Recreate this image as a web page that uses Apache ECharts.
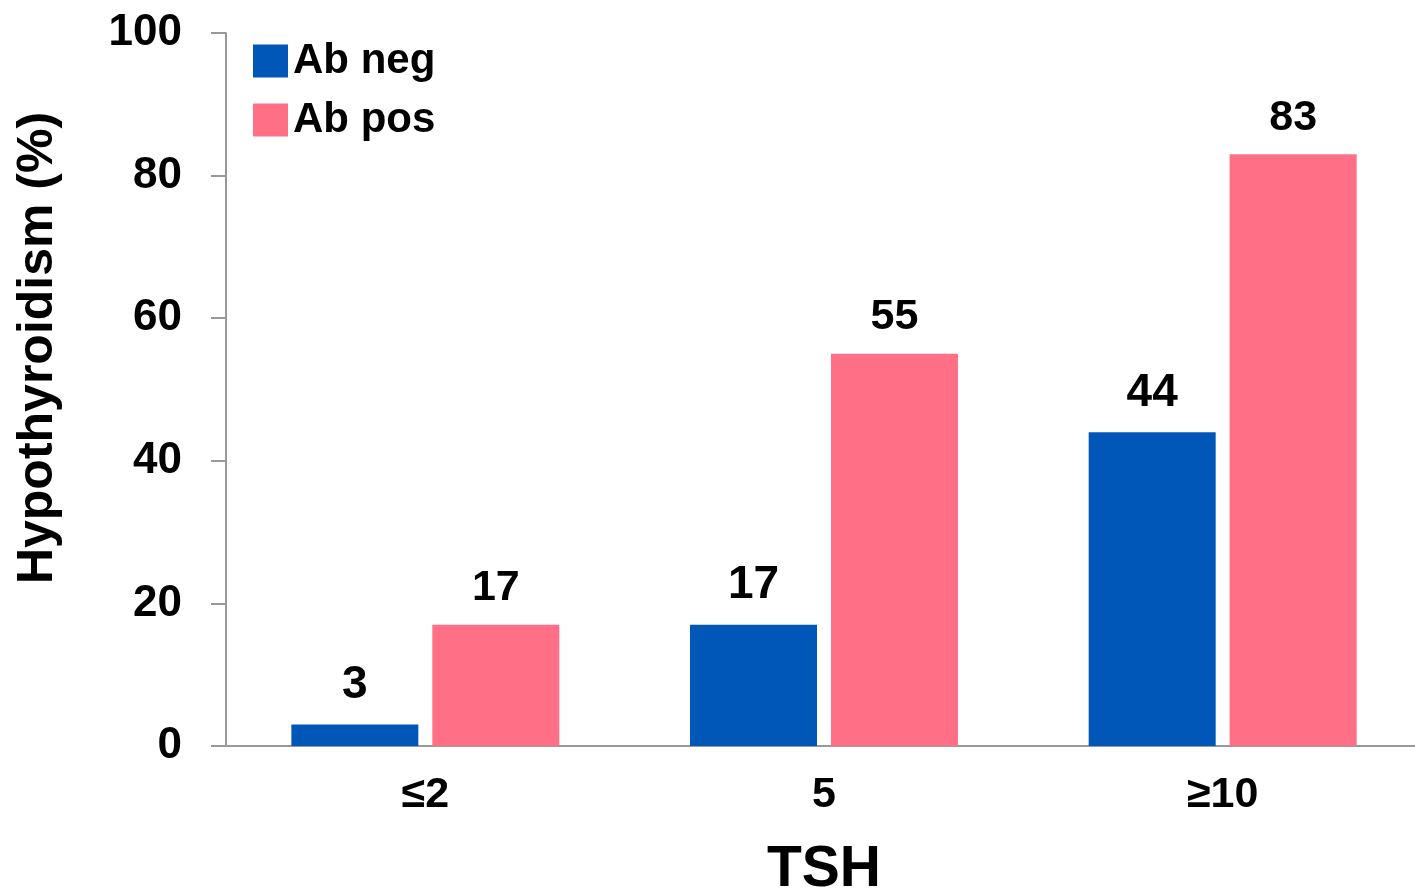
<!DOCTYPE html>
<html>
<head>
<meta charset="utf-8">
<title>Hypothyroidism by TSH</title>
<script src="https://cdn.jsdelivr.net/npm/echarts@6/dist/echarts.min.js"></script>
<style>
  html, body { margin: 0; padding: 0; background: #fff; }
  #chart { width: 1415px; height: 894px; }
</style>
</head>
<body>
<div id="chart"></div>
<script>
// TSH groups on the x axis
const categories = ['≤2', '5', '≥10']
// hypothyroidism (%) per group
const abNeg = [3, 17, 44]
const abPos = [17, 55, 83]
const seriesNames = ['Ab neg', 'Ab pos']

const font = "'Liberation Sans', Arial, Helvetica, sans-serif"

const chart = echarts.init(document.getElementById('chart'))

const option = {
  animation: false,
  textStyle: { fontFamily: font },
  legend: {
    data: seriesNames,
    orient: 'vertical',
    left: 248,
    top: 35,
    itemWidth: 35,
    itemHeight: 33,
    itemGap: 17,
    icon: 'rect',
    textStyle: {
      fontFamily: font,
      fontSize: 42,
      fontWeight: 'bold',
      color: '#000'
    }
  },
  grid: {
    // plot box is fixed; let the right edge run a little past the page like the source
    left: 226,
    top: 33,
    bottom: 148,
    width: 1196,
    outerBoundsMode: 'none',
    containLabel: false
  },
  xAxis: {
    type: 'category',
    data: categories,
    name: 'TSH',
    nameLocation: 'middle',
    nameGap: 96,
    nameTextStyle: {
      fontFamily: font,
      fontSize: 57,
      fontWeight: 'bold',
      color: '#000'
    },
    axisLine: { lineStyle: { color: '#999', width: 2 } },
    axisTick: { show: false },
    axisLabel: {
      margin: 28,
      fontFamily: font,
      fontSize: 43,
      fontWeight: 'bold',
      color: '#000'
    }
  },
  yAxis: {
    type: 'value',
    min: 0,
    max: 100,
    interval: 20,
    name: 'Hypothyroidism (%)',
    nameLocation: 'middle',
    nameGap: 163,
    nameTextStyle: {
      fontFamily: font,
      fontSize: 50,
      fontWeight: 'bold',
      color: '#000',
      padding: [0, 0, 0, 83]
    },
    splitLine: { show: false },
    axisLine: { show: true, lineStyle: { color: '#999', width: 2 } },
    axisTick: { show: true, length: 15, lineStyle: { color: '#999', width: 2 } },
    axisLabel: {
      margin: 44,
      fontFamily: font,
      fontSize: 44,
      fontWeight: 'bold',
      color: '#000'
    }
  },
  series: [
    {
      name: seriesNames[0],
      type: 'bar',
      data: abNeg,
      barWidth: 127,
      barGap: '11%',
      itemStyle: { color: '#0057B8' },
      label: {
        show: true,
        position: 'top',
        distance: 16,
        fontFamily: font,
        fontSize: 46,
        fontWeight: 'bold',
        color: '#000'
      }
    },
    {
      name: seriesNames[1],
      type: 'bar',
      data: abPos,
      barWidth: 127,
      itemStyle: { color: '#FF7086' },
      label: {
        show: true,
        position: 'top',
        distance: 15,
        fontFamily: font,
        fontSize: 43,
        fontWeight: 'bold',
        color: '#000'
      }
    }
  ]
}

chart.setOption(option)
</script>
</body>
</html>
